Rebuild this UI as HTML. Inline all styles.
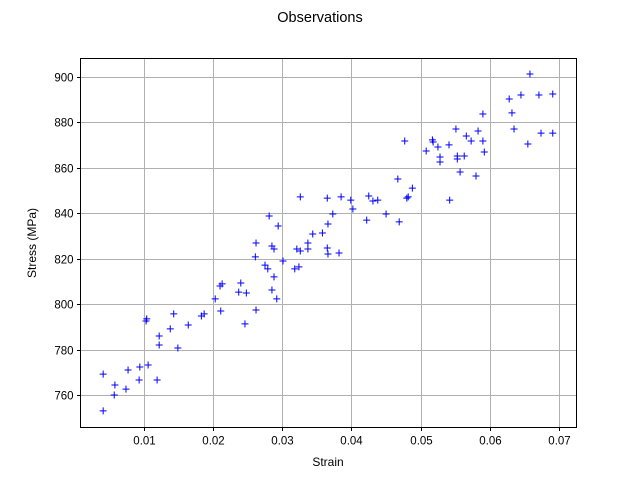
<!DOCTYPE html>
<html><head><meta charset="utf-8"><style>
html,body{margin:0;padding:0;background:#fff;}
svg{display:block;font-family:"Liberation Sans","DejaVu Sans",sans-serif;}
</style></head><body>
<svg id="chart" width="640" height="480">
<rect width="640" height="480" fill="#fff"/>
<text x="320" y="22" text-anchor="middle" font-size="14.5">Observations</text>
<g id="grid"></g>
<g id="ticks"></g>
<g id="marks"></g>
<rect x="80.5" y="58.5" width="496" height="369" fill="none" stroke="#000" stroke-width="1"/>
<text x="328" y="466" text-anchor="middle" font-size="12">Strain</text>
<text transform="translate(36,243) rotate(-90)" text-anchor="middle" font-size="12">Stress (MPa)</text>
</svg>
<script>
const strain = [0.0041,0.0041,0.0058,0.0057,0.0074,0.0077,0.0093,0.0094,0.0106,0.0119,0.0103,0.0104,0.0122,0.0122,0.0138,0.0143,0.0149,0.0164,0.0183,0.0187,0.0203,0.0210,0.0213,0.0211,0.0240,0.0237,0.0248,0.0246,0.0262,0.0262,0.0261,0.0285,0.0288,0.0301,0.0275,0.0279,0.0288,0.0285,0.0292,0.0318,0.0324,0.0321,0.0326,0.0337,0.0337,0.0281,0.0294,0.0344,0.0358,0.0366,0.0373,0.0365,0.0366,0.0382,0.0326,0.0365,0.0385,0.0399,0.0402,0.0422,0.0425,0.0431,0.0438,0.0450,0.0469,0.0467,0.0480,0.0482,0.0488,0.0542,0.0477,0.0517,0.0518,0.0508,0.0525,0.0541,0.0551,0.0566,0.0573,0.0583,0.0590,0.0592,0.0528,0.0528,0.0553,0.0553,0.0563,0.0557,0.0580,0.0590,0.0628,0.0645,0.0671,0.0691,0.0658,0.0632,0.0635,0.0655,0.0674,0.0691];
const stress = [769.2,753.0,764.4,760.0,762.6,771.0,766.6,772.3,773.2,766.6,792.6,793.5,786.0,782.0,789.1,795.7,780.7,790.8,794.8,795.7,802.3,808.0,808.9,797.0,809.3,805.3,804.9,791.3,797.4,826.9,820.8,825.6,824.3,819.0,817.2,815.5,812.0,806.2,802.3,815.5,816.4,824.3,823.4,826.9,824.3,838.8,834.4,830.9,831.3,835.3,839.7,824.7,822.1,822.5,847.2,846.7,847.2,845.8,841.9,837.0,847.6,845.4,845.8,839.7,836.2,855.1,846.7,847.2,851.1,845.8,871.8,872.3,871.4,867.4,869.2,870.1,877.1,874.0,871.8,876.2,871.8,867.0,864.8,862.6,865.2,863.9,865.2,858.2,856.4,883.7,890.3,892.1,892.1,892.5,901.3,884.2,877.1,870.5,875.3,875.3];
const xTicks = [0.01,0.02,0.03,0.04,0.05,0.06,0.07];
const yTicks = [760,780,800,820,840,860,880,900];

const NS = "http://www.w3.org/2000/svg";
const X0 = 80.5, X1 = 576.5, Y0 = 58.5, Y1 = 427.5;
function xs(v){ return 74.8 + v * 6917; }
function ys(v){ return 77 + (900 - v) * (318 / 140); }
function mk(tag, attrs, parent){
  const e = document.createElementNS(NS, tag);
  for (const k in attrs) e.setAttribute(k, attrs[k]);
  parent.appendChild(e);
  return e;
}
const grid = document.getElementById('grid');
const ticks = document.getElementById('ticks');
const marks = document.getElementById('marks');
xTicks.forEach(t => {
  const x = Math.round(xs(t)) + 0.5;
  const g = mk('line', {x1:x, x2:x, y1:Y0, y2:Y1, stroke:'#b0b0b0', 'stroke-width':1}, grid);
  
  
  mk('line', {x1:x, x2:x, y1:Y1, y2:Y1+3.5, stroke:'#000'}, ticks);
  const l = mk('text', {x:x, y:Y1+17, 'text-anchor':'middle', 'font-size':11.5}, ticks);
  l.textContent = t.toFixed(2);
  
  
});
yTicks.forEach(t => {
  const y = Math.round(ys(t)) + 0.5;
  const g = mk('line', {x1:X0, x2:X1, y1:y, y2:y, stroke:'#b0b0b0', 'stroke-width':1}, grid);
  
  
  mk('line', {x1:X0-3.5, x2:X0, y1:y, y2:y, stroke:'#000'}, ticks);
  const l = mk('text', {x:X0-7, y:y+4, 'text-anchor':'end', 'font-size':11.5}, ticks);
  l.textContent = String(t);
  
  
});
strain.forEach((s, i) => {
  const cx = xs(s), cy = ys(stress[i]);
  const p = mk('path', {d:`M${cx-3.5},${cy}H${cx+3.5}M${cx},${cy-3.5}V${cy+3.5}`, stroke:'#0000ff', 'stroke-width':1, fill:'none'}, marks);
  
  
});
</script>
</body></html>
